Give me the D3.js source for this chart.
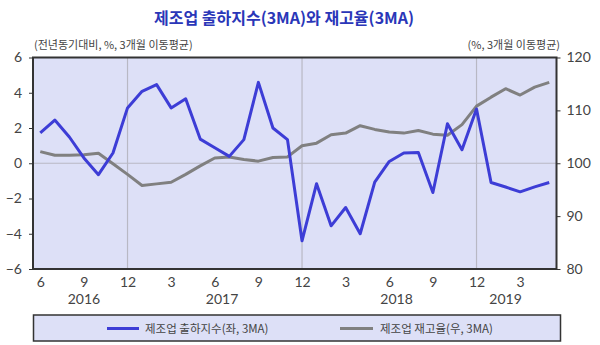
<!DOCTYPE html>
<html><head><meta charset="utf-8">
<script src="https://cdn.jsdelivr.net/npm/d3@7"></script>
<style>body{margin:0;background:#fff}svg{display:block}</style>
</head><body>
<svg id="c" width="600" height="345"></svg>
<script>
const months = ["2016-06","2016-07","2016-08","2016-09","2016-10","2016-11","2016-12","2017-01","2017-02","2017-03","2017-04","2017-05","2017-06","2017-07","2017-08","2017-09","2017-10","2017-11","2017-12","2018-01","2018-02","2018-03","2018-04","2018-05","2018-06","2018-07","2018-08","2018-09","2018-10","2018-11","2018-12","2019-01","2019-02","2019-03","2019-04","2019-05"];
const shipments = [1.72,2.45,1.49,0.3,-0.65,0.58,3.14,4.08,4.46,3.14,3.66,1.37,0.88,0.39,1.34,4.59,2.0,1.34,-4.4,-1.16,-3.55,-2.51,-4.0,-1.07,0.1,0.58,0.61,-1.66,2.24,0.77,3.08,-1.09,-1.35,-1.62,-1.34,-1.09];
const inventory = [102.2,101.5,101.5,101.6,101.9,99.9,97.9,95.8,96.1,96.4,97.9,99.5,101.0,101.2,100.7,100.4,101.1,101.2,103.3,103.8,105.4,105.7,107.1,106.4,105.9,105.7,106.2,105.5,105.3,107.3,110.8,112.5,114.1,112.9,114.4,115.3];
const xTickIdx = [0,3,6,9,12,15,18,21,24,27,30,33];
const xTickLabels = ["6","9","12","3","6","9","12","3","6","9","12","3"];
const yearLabels = ["2016","2017","2018","2019"];
const yearPos = [3,12.5,24.5,32];
const leftTicks = [-6,-4,-2,0,2,4,6];
const rightTicks = [80,90,100,110,120];
const gridIdx = [6,18,30];
const title = "제조업 출하지수(3MA)와 재고율(3MA)";
const leftUnit = "(전년동기대비,  %, 3개월 이동평균)";
const rightUnit = "(%, 3개월 이동평균)";
const seriesNames = ["제조업 출하지수(좌,  3MA)","제조업 재고율(우,  3MA)"];

const svg = d3.select("#c");
const F = "'Noto Sans CJK KR','Noto Sans',sans-serif";
const FN = "Lato,'Liberation Sans',sans-serif";
const L = 33, R = 556.5, T = 57.5, B = 269;
const x = d3.scaleLinear().domain([-0.5,35.5]).range([L,R]);
const yL = d3.scaleLinear().domain([-6,6]).range([B,T]);
const yR = d3.scaleLinear().domain([80,120]).range([B,T]);
const BLUE = "#3d3dd6", GRAY = "#808080", TXT = "#444";

svg.append("rect").attr("x",L).attr("y",T).attr("width",R-L).attr("height",B-T).attr("fill","#dde0f7");
// gridlines
svg.selectAll(".vg").data(gridIdx).join("line")
  .attr("x1",d=>x(d)).attr("x2",d=>x(d)).attr("y1",T).attr("y2",B)
  .attr("stroke","#b8b8c4").attr("stroke-width",1.2);
svg.append("line").attr("x1",L).attr("x2",R).attr("y1",yL(0)).attr("y2",yL(0))
  .attr("stroke","#b8b8c4").attr("stroke-width",1.2);

// lines
const lineL = d3.line().x((d,i)=>x(i)).y(d=>yL(d));
const lineR = d3.line().x((d,i)=>x(i)).y(d=>yR(d));
svg.append("path").attr("d",lineR(inventory)).attr("fill","none").attr("stroke",GRAY).attr("stroke-width",3).attr("stroke-linejoin","round");
svg.append("path").attr("d",lineL(shipments)).attr("fill","none").attr("stroke",BLUE).attr("stroke-width",3).attr("stroke-linejoin","round");

// frame
svg.append("rect").attr("x",L).attr("y",T).attr("width",R-L).attr("height",B-T).attr("fill","none").attr("stroke","#333").attr("stroke-width",2);

// axes
const axL = svg.append("g").attr("transform",`translate(${L},0)`)
  .call(d3.axisLeft(yL).tickValues(leftTicks).tickSize(4).tickPadding(7).tickFormat(d3.format("d")));
const axR = svg.append("g").attr("transform",`translate(${R},0)`)
  .call(d3.axisRight(yR).tickValues(rightTicks).tickSize(4).tickPadding(6).tickFormat(d3.format("d")));
[axL,axR].forEach(a=>{
  a.select(".domain").remove();
  a.selectAll("line").attr("stroke","#333");
  a.selectAll("text").attr("font-family",FN).attr("font-size",14).attr("fill",TXT);
});
const axX = svg.append("g").attr("transform",`translate(0,${B})`)
  .call(d3.axisBottom(x).tickValues(xTickIdx).tickSize(0).tickPadding(8).tickFormat((d,i)=>xTickLabels[i]));
axX.select(".domain").remove();
axX.selectAll("text").attr("font-family",FN).attr("font-size",14).attr("fill",TXT);

svg.selectAll(".yr").data(yearLabels).join("text")
  .attr("x",(d,i)=>x(yearPos[i])).attr("y",304).attr("text-anchor","middle")
  .attr("font-family",FN).attr("font-size",14).attr("fill",TXT).text(d=>d);

// titles
svg.append("text").attr("x",284).attr("y",24).attr("text-anchor","middle")
  .attr("font-family",F).attr("font-size",16).attr("font-weight","bold").attr("fill","#2a36b8").text(title);
svg.append("text").attr("x",34).attr("y",49).attr("font-family",F).attr("font-size",11).attr("fill",TXT).text(leftUnit);
svg.append("text").attr("x",560).attr("y",49).attr("text-anchor","end").attr("font-family",F).attr("font-size",11).attr("fill",TXT).text(rightUnit);

// legend
svg.append("rect").attr("x",33.5).attr("y",315).attr("width",527).attr("height",26).attr("fill","#dde0f7").attr("stroke","#333").attr("stroke-width",1.5);
const lg = [{x1:107,x2:139,tx:145,c:BLUE},{x1:340,x2:373,tx:380,c:GRAY}];
lg.forEach((g,i)=>{
  svg.append("line").attr("x1",g.x1).attr("x2",g.x2).attr("y1",328.5).attr("y2",328.5).attr("stroke",g.c).attr("stroke-width",3);
  svg.append("text").attr("x",g.tx).attr("y",333).attr("font-family",F).attr("font-size",11.5).attr("fill",TXT).text(seriesNames[i]);
});
</script>
</body></html>
